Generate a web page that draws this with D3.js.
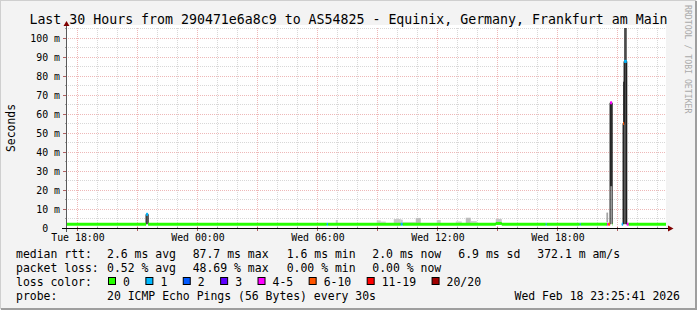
<!DOCTYPE html>
<html>
<head>
<meta charset="utf-8">
<script src="https://cdn.jsdelivr.net/npm/d3@7"></script>
<style>
body { margin: 0; background: #f3f3f3; }
svg text { font-family: "DejaVu Sans Mono", monospace; white-space: pre; }
</style>
</head>
<body>
<div id="chart"></div>
<script>
// graph window
const startTime = "2026-02-17 17:25:41";
const endTime = "2026-02-18 23:25:41";

// samples, each one holds until the next (step)
const sampleTimes = [
  "2026-02-17 17:25", "2026-02-17 21:26", "2026-02-17 21:32",
  "2026-02-18 06:28", "2026-02-18 06:32", "2026-02-18 06:55", "2026-02-18 07:01",
  "2026-02-18 08:58", "2026-02-18 09:10", "2026-02-18 09:25", "2026-02-18 09:49",
  "2026-02-18 10:10", "2026-02-18 10:16", "2026-02-18 10:55", "2026-02-18 11:10",
  "2026-02-18 11:58", "2026-02-18 12:10", "2026-02-18 12:55", "2026-02-18 13:13",
  "2026-02-18 13:25", "2026-02-18 13:40", "2026-02-18 13:58", "2026-02-18 14:55",
  "2026-02-18 15:13", "2026-02-18 17:25", "2026-02-18 17:28", "2026-02-18 19:07",
  "2026-02-18 19:10", "2026-02-18 20:27", "2026-02-18 20:29", "2026-02-18 20:32",
  "2026-02-18 20:38", "2026-02-18 20:44", "2026-02-18 20:45", "2026-02-18 21:13",
  "2026-02-18 21:17", "2026-02-18 21:20", "2026-02-18 21:28", "2026-02-18 21:34"
];
const medianMs = [2.0, 7.2, 2.0, 2.0, 2.0, 2.0, 2.0, 2.0, 2.0, 2.0, 2.0, 2.0, 2.0, 2.0, 2.0,
  2.0, 2.0, 2.0, 2.0, 2.0, 2.0, 2.0, 2.4, 2.0, 2.0, 2.0, 2.0, 2.0, 2.0, 2.0, 2.0,
  65.9, 2.0, null, 2.0, 55.0, 87.7, 2.0, 2.0];
const lossCount = [0, 1, 0, 1, 0, 0, 0, 0, 0, 0, 0, 1, 0, 0, 0, 0, 0, 0, 0, 0, 0, 0, 0,
  0, 1, 0, 1, 0, 0, 4, 7, 5, 0, null, 1, 8, 1, 5, 0];
const smokeLoMs = [2.0, 2.0, 2.0, 2.0, 2.0, 1.9, 2.0, 1.9, 1.9, 2.0, 1.9, 1.9, 1.9, 1.9, 2.0,
  1.9, 2.0, 1.9, 2.0, 1.9, 1.9, 2.0, 1.9, 2.0, 2.0, 2.0, 2.0, 2.0, 3.0, 3.0, 2.0,
  22.0, 2.0, null, 2.0, 2.0, 2.0, 2.0, 2.0];
const smokeHiMs = [2.0, 7.4, 2.0, 2.0, 2.0, 4.2, 2.0, 4.0, 3.4, 2.0, 4.7, 4.4, 3.2, 5.3, 2.0,
  4.2, 2.0, 3.5, 2.0, 5.4, 3.7, 2.0, 4.8, 2.0, 2.0, 2.0, 2.0, 2.0, 8.1, 8.1, 2.0,
  66.0, 2.0, null, 2.0, 77.0, 140.0, 2.0, 2.0];

// loss classes (upper bound of pings lost out of 20)
const lossLabels = ["0", "1", "2", "3", "4-5", "6-10", "11-19", "20/20"];
const lossLimits = [0, 1, 2, 3, 5, 10, 19, 20];
const lossColors = ["#26ff00", "#00b8ff", "#0059ff", "#5e00ff", "#ff00ff", "#ff5500", "#ff0000", "#a00000"];

// legend texts
const titleText = "Last 30 Hours from 290471e6a8c9 to AS54825 - Equinix, Germany, Frankfurt am Main";
const rttStats = ["2.6 ms avg", "87.7 ms max", "1.6 ms min", "2.0 ms now", "6.9 ms sd", "372.1 m am/s"];
const lossStats = ["0.52 % avg", "48.69 % max", "0.00 % min", "0.00 % now"];
const probeText = "20 ICMP Echo Pings (56 Bytes) every 30s";

var width = 697;
var height = 310;
var plot = { left: 66, right: 666, top: 28, bottom: 228 };

var parseMin = d3.timeParse("%Y-%m-%d %H:%M");
var parseSec = d3.timeParse("%Y-%m-%d %H:%M:%S");
var t0 = parseSec(startTime);
var t1 = parseSec(endTime);

var rows = sampleTimes.map((t, i) => ({
  time: parseMin(t),
  median: medianMs[i],
  loss: lossCount[i],
  lo: smokeLoMs[i],
  hi: smokeHiMs[i]
}));
rows.forEach((d, i) => { d.next = i < rows.length - 1 ? rows[i + 1].time : t1; });

var x = d3.scaleTime().domain([t0, t1]).range([plot.left, plot.right]);
var y = d3.scaleLinear().domain([0, 200 / 19 * 10]).range([plot.bottom, plot.top]);

function lossColor(n) {
  var k = lossLimits.findIndex(l => n <= l);
  return lossColors[k];
}

// smoke gets darker the wider the ping spread
var smokeColor = d3.scaleLinear()
  .domain([0, 3, 6, 30])
  .range(["#e6e6e6", "#c6c6c6", "#8a8a8a", "#4a4a4a"])
  .clamp(true);

var svg = d3.select("#chart")
  .append("svg")
  .attr("width", width)
  .attr("height", height);

// background and 3d frame
svg.append("rect").attr("width", width).attr("height", height).attr("fill", "#f3f3f3");
svg.append("path").attr("d", "M0,309 V0 H696").attr("fill", "none").attr("stroke", "#cfcfcf").attr("stroke-width", 2);
svg.append("path").attr("d", "M1,309 H696 V1").attr("fill", "none").attr("stroke", "#9e9e9e").attr("stroke-width", 2);

// canvas
svg.append("rect")
  .attr("x", plot.left).attr("y", 25)
  .attr("width", plot.right - plot.left).attr("height", plot.bottom - 25)
  .attr("fill", "#ffffff");

svg.append("clipPath").attr("id", "clip")
  .append("rect")
  .attr("x", plot.left).attr("y", plot.top)
  .attr("width", plot.right - plot.left).attr("height", plot.bottom - plot.top);

var px = v => Math.floor(v) + 0.5;
var majorGrid = "rgba(200,20,20,0.3)";
var minorGrid = "rgba(143,143,143,0.35)";

// grid
var grid = svg.append("g").attr("stroke-dasharray", "1,1").attr("fill", "none");
var hours = d3.timeHour.range(t0, t1);
grid.selectAll(".vgrid")
  .data(hours)
  .enter().append("line")
  .attr("x1", d => px(x(d))).attr("x2", d => px(x(d)))
  .attr("y1", plot.top).attr("y2", plot.bottom)
  .attr("stroke", d => d.getHours() % 3 === 0 ? majorGrid : minorGrid);
grid.selectAll(".hgrid")
  .data(d3.range(5, 106, 5))
  .enter().append("line")
  .attr("x1", plot.left).attr("x2", plot.right)
  .attr("y1", d => px(y(d))).attr("y2", d => px(y(d)))
  .attr("stroke", d => d % 10 === 0 ? majorGrid : minorGrid);

var data = svg.append("g").attr("clip-path", "url(#clip)");

// smoke
data.selectAll(".smoke")
  .data(rows.filter(d => d.hi != null && d.hi > d.lo))
  .enter().append("rect")
  .attr("x", d => x(d.time))
  .attr("width", d => x(d.next) - x(d.time))
  .attr("y", d => y(d.hi))
  .attr("height", d => y(d.lo) - y(d.hi))
  .attr("fill", d => smokeColor(d.hi - d.lo));

// thin median step line (gives the black flanks of the spikes)
var stepLine = d3.line()
  .defined(d => d.median != null)
  .x(d => x(d.time))
  .y(d => y(d.median))
  .curve(d3.curveStepAfter);
var lineData = rows.concat([{ time: t1, median: rows[rows.length - 1].median }]);
data.append("path")
  .attr("d", stepLine(lineData))
  .attr("fill", "none")
  .attr("stroke", "#000000")
  .attr("stroke-width", 1);

// median coloured by loss, joined into runs of one colour
var runs = [];
rows.forEach(d => {
  if (d.median == null) return;
  var c = lossColor(d.loss);
  var last = runs[runs.length - 1];
  if (last && last.color === c && last.median === d.median && +last.end === +d.time) {
    last.end = d.next;
  } else {
    runs.push({ start: d.time, end: d.next, median: d.median, color: c });
  }
});
data.selectAll(".median")
  .data(runs)
  .enter().append("line")
  .attr("x1", d => x(d.start)).attr("x2", d => x(d.end))
  .attr("y1", d => y(d.median)).attr("y2", d => y(d.median))
  .attr("stroke", d => d.color)
  .attr("stroke-width", 3);

// axes
var yAxis = d3.axisLeft(y)
  .tickValues(d3.range(0, 101, 10))
  .tickSize(0)
  .tickPadding(6)
  .tickFormat(d => d === 0 ? "0  " : d + " m");
svg.append("g")
  .attr("transform", "translate(" + plot.left + ",0)")
  .call(yAxis)
  .call(g => g.select(".domain").remove())
  .selectAll("text")
  .style("font-family", "DejaVu Sans Mono")
  .style("font-size", "9.9px")
  .attr("fill", "#000");

var xAxis = d3.axisBottom(x)
  .ticks(d3.timeHour.every(6))
  .tickSize(0)
  .tickPadding(5.5)
  .tickFormat(d3.timeFormat("%a %H:%M"));
svg.append("g")
  .attr("transform", "translate(0," + plot.bottom + ")")
  .call(xAxis)
  .call(g => g.select(".domain").remove())
  .selectAll("text")
  .style("font-family", "DejaVu Sans Mono")
  .style("font-size", "9.9px")
  .attr("fill", "#000");

// tick marks on the axes
svg.selectAll(".ytick")
  .data(d3.range(5, 106, 5))
  .enter().append("line")
  .attr("x1", d => d % 10 === 0 ? plot.left - 3 : plot.left - 1).attr("x2", plot.left + 1)
  .attr("y1", d => px(y(d))).attr("y2", d => px(y(d)))
  .attr("stroke", d => d % 10 === 0 ? "#b06060" : "#a0a0a0");
svg.selectAll(".xtick")
  .data(hours)
  .enter().append("line")
  .attr("x1", d => px(x(d))).attr("x2", d => px(x(d)))
  .attr("y1", plot.bottom - 1)
  .attr("y2", d => d.getHours() % 3 === 0 ? plot.bottom + 3 : plot.bottom + 1)
  .attr("stroke", d => d.getHours() % 3 === 0 ? "#b06060" : "#a0a0a0");

svg.append("line")
  .attr("x1", plot.left + 0.5).attr("x2", plot.left + 0.5)
  .attr("y1", plot.bottom + 4).attr("y2", 24)
  .attr("stroke", "#5a5a5a");
svg.append("line")
  .attr("x1", plot.left - 4).attr("x2", plot.right + 5)
  .attr("y1", plot.bottom + 0.5).attr("y2", plot.bottom + 0.5)
  .attr("stroke", "#000");
svg.append("path")
  .attr("d", "M63.5,26 L69.5,26 L66.5,21 Z")
  .attr("fill", "#7f0000");
svg.append("path")
  .attr("d", "M668,225.5 L668,231.5 L673.5,228.5 Z")
  .attr("fill", "#7f0000");

// titles
svg.append("text")
  .attr("x", width / 2).attr("y", 23.5)
  .attr("text-anchor", "middle")
  .style("font-size", "13.25px")
  .text(titleText);

svg.append("text")
  .attr("transform", "translate(15," + (plot.top + plot.bottom) / 2 + ") rotate(-90)")
  .attr("text-anchor", "middle")
  .style("font-size", "11.4px")
  .text("Seconds");

svg.append("text")
  .attr("transform", "translate(685,5) rotate(90)")
  .style("font-size", "8.2px")
  .attr("fill", "#aaaaaa")
  .text("RRDTOOL / TOBI OETIKER");

// legend
var fs = "11.46px";
var statX = [107, 192.7, 286.7, 372.3, 458.3, 537.3];
var legend = svg.append("g").style("font-size", fs);

legend.append("text").attr("x", 16).attr("y", 258).text("median rtt:");
legend.selectAll(".rtt").data(rttStats).enter().append("text")
  .attr("x", (d, i) => statX[i]).attr("y", 258).text(d => d);

legend.append("text").attr("x", 16).attr("y", 272).text("packet loss:");
legend.selectAll(".loss").data(lossStats).enter().append("text")
  .attr("x", (d, i) => statX[i]).attr("y", 272).text(d => d);

legend.append("text").attr("x", 16).attr("y", 286).text("loss color:");
var charW = 6.88;
var bx = 108;
lossLabels.forEach((lab, i) => {
  legend.append("rect")
    .attr("x", bx + 0.5).attr("y", 277.5)
    .attr("width", 7).attr("height", 7)
    .attr("fill", lossColors[i])
    .attr("stroke", "#000");
  legend.append("text").attr("x", bx + 15).attr("y", 286).text(lab);
  bx = bx + 15 + lab.length * charW + 15.5;
});

legend.append("text").attr("x", 16).attr("y", 300).text("probe:");
legend.append("text").attr("x", 107).attr("y", 300).text(probeText);
legend.append("text").attr("x", 680).attr("y", 300)
  .attr("text-anchor", "end")
  .text(d3.timeFormat("%a %b %d %H:%M:%S %Y")(t1));
</script>
</body>
</html>
